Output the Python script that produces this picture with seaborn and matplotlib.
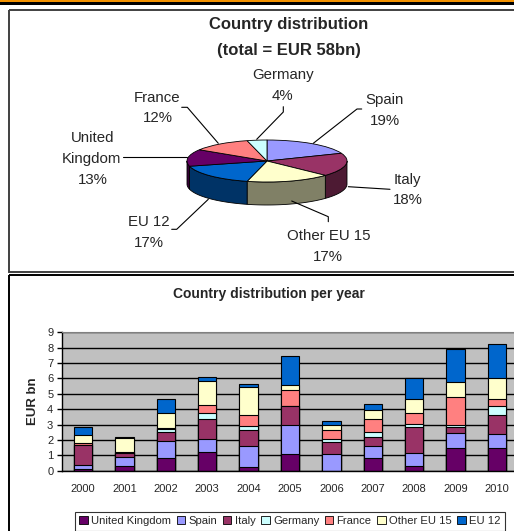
import numpy as np
import pandas as pd
import matplotlib
matplotlib.use("Agg")
import matplotlib.pyplot as plt
from matplotlib.patches import Rectangle, Patch
import seaborn as sns

# ---------------- data ----------------
pie_labels = ["Spain", "Italy", "Other EU 15", "EU 12", "United Kingdom", "France", "Germany"]
pie_shares = [19, 18, 17, 17, 13, 12, 4]

years = ["2000", "2001", "2002", "2003", "2004", "2005", "2006", "2007", "2008", "2009", "2010"]
series_names = ["United Kingdom", "Spain", "Italy", "Germany", "France", "Other EU 15", "EU 12"]
uk      = [0.10, 0.28, 0.82, 1.24, 0.26, 1.10, 0.00, 0.80, 0.28, 1.45, 1.45]
spain   = [0.25, 0.62, 1.13, 0.84, 1.32, 1.90, 1.08, 0.78, 0.89, 0.98, 0.91]
italy   = [1.30, 0.27, 0.55, 1.30, 1.04, 1.20, 0.79, 0.63, 1.67, 0.39, 1.26]
germany = [0.05, 0.00, 0.24, 0.37, 0.31, 0.03, 0.21, 0.33, 0.18, 0.18, 0.57]
france  = [0.10, 0.07, 0.06, 0.50, 0.69, 1.00, 0.57, 0.84, 0.71, 1.79, 0.50]
other15 = [0.50, 0.86, 0.95, 1.59, 1.80, 0.32, 0.35, 0.57, 0.93, 0.98, 1.36]
eu12    = [0.55, 0.07, 0.91, 0.23, 0.22, 1.91, 0.21, 0.37, 1.39, 2.13, 2.17]
series_values = [uk, spain, italy, germany, france, other15, eu12]
y_ticks = [0, 1, 2, 3, 4, 5, 6, 7, 8, 9]

colors = {
    "United Kingdom": "#660066",
    "Spain": "#9999FF",
    "Italy": "#993366",
    "Germany": "#CCFFFF",
    "France": "#FF8080",
    "Other EU 15": "#FFFFCC",
    "EU 12": "#0066CC",
}

sns.set_style("white")
plt.rcParams["font.family"] = ["Liberation Sans", "DejaVu Sans"]

W, H = 514, 531
fig = plt.figure(figsize=(W / 100, H / 100), dpi=100)

# ---------------- 3D pie ----------------
cx, cy, rx, ry, depth_px = 267, 161, 80, 21, 23
pa = fig.add_axes([0, 0, 1, 1])
pa.set_facecolor("none")
depth = depth_px / ry

def darker(c):
    r, g, b = matplotlib.colors.to_rgb(c)
    return (r * 0.5, g * 0.5, b * 0.5)

shares = np.array(pie_shares, dtype=float)
ends = 90 - 360 * np.cumsum(shares) / shares.sum()
starts = np.concatenate([[90], ends[:-1]])
for lab, a1, a2 in zip(pie_labels, starts, ends):
    lo, hi = max(a2, -180), min(a1, 0)
    if lo < hi:
        t = np.radians(np.linspace(lo, hi, 60))
        xs = np.concatenate([np.cos(t), np.cos(t[::-1])])
        ys = np.concatenate([np.sin(t), np.sin(t[::-1]) - depth])
        pa.fill(xs, ys, facecolor=darker(colors[lab]), edgecolor="black", linewidth=0.6)

pa.pie(pie_shares, colors=[colors[l] for l in pie_labels], startangle=90,
       counterclock=False, radius=1,
       wedgeprops=dict(edgecolor="black", linewidth=0.6))
pa.set_aspect("auto")
pa.set_xlim(-cx / rx, (W - cx) / rx)
pa.set_ylim(-(H - cy) / ry, cy / ry)
pa.axis("off")

# ---------------- stacked bars ----------------
ax = fig.add_axes([62.3 / W, 1 - 470.7 / H, 455.4 / W, 138.4 / H])
ax.set_facecolor("#C0C0C0")
cum = np.cumsum(np.array(series_values), axis=0)
for i in range(len(series_names) - 1, -1, -1):
    df = pd.DataFrame({"year": years, "value": cum[i]})
    sns.barplot(data=df, x="year", y="value", color=colors[series_names[i]],
                saturation=1, width=0.44, edgecolor="black", linewidth=0.8, ax=ax)
ax.set_xlim(-0.5, len(years) - 0.5)
ax.set_ylim(0, 9)
ax.set_yticks(y_ticks)
ax.set_axisbelow(True)
ax.yaxis.grid(True, color="black", linewidth=1)
ax.xaxis.grid(False)
ax.set_xlabel("")
ax.set_ylabel("")
ax.set_xticks(range(len(years)))
ax.set_xticklabels(years)
ax.set_xticks(np.arange(-0.5, len(years), 1), minor=True)
ax.tick_params(axis="x", which="major", length=0, pad=9.5, labelsize=8)
ax.tick_params(axis="x", which="minor", length=3.5, width=1, direction="out", color="black")
ax.tick_params(axis="y", which="major", length=3.5, width=1, direction="out", pad=3, labelsize=8, color="black", left=True)
for s in ["left", "bottom"]:
    ax.spines[s].set_color("black")
    ax.spines[s].set_linewidth(1)
ax.spines["top"].set_color("#808080")
ax.spines["top"].set_visible(True)
ax.spines["right"].set_visible(False)

handles = [Patch(facecolor=colors[n], edgecolor="black", linewidth=0.6, label=n) for n in series_names]
leg = fig.legend(handles=handles, loc="upper center", bbox_to_anchor=(290 / W, 1 - 511.5 / H),
                 ncol=7, fontsize=8.1, frameon=True, fancybox=False, edgecolor="black",
                 handlelength=0.75, handleheight=0.75, handletextpad=0.3, columnspacing=0.5,
                 borderpad=0.4, borderaxespad=0)
leg.get_frame().set_linewidth(0.8)

# ---------------- overlay (texts, borders, leaders) ----------------
ov = fig.add_axes([0, 0, 1, 1], zorder=5)
ov.set_xlim(0, W)
ov.set_ylim(H, 0)
ov.axis("off")

ov.add_patch(Rectangle((0, 0), W, 2.2, facecolor="#F39200", edgecolor="none"))
ov.add_patch(Rectangle((0, 2.2), W, 2.6, facecolor="black", edgecolor="none"))
ov.add_patch(Rectangle((8.5, 9.8), 520, 262.3, fill=False, edgecolor="#404040", linewidth=1.4))
ov.add_patch(Rectangle((8.5, 275), 520, 270, fill=False, edgecolor="black", linewidth=1.4))

ov.text(289, 25, "Country distribution", ha="center", va="center", fontsize=12, fontweight="bold")
ov.text(289, 50, "(total = EUR 58bn)", ha="center", va="center", fontsize=12, fontweight="bold")

lbl = dict(ha="center", va="center", fontsize=10.8)
ov.text(282.7, 75, "Germany", **lbl); ov.text(282.7, 95.7, "4%", **lbl)
ov.text(157, 97.7, "France", **lbl); ov.text(157.5, 118.3, "12%", **lbl)
ov.text(385, 100, "Spain", **lbl); ov.text(385, 120.7, "19%", **lbl)
ov.text(92.5, 138.3, "United", **lbl); ov.text(91.3, 159, "Kingdom", **lbl); ov.text(93.3, 180, "13%", **lbl)
ov.text(407.5, 180, "Italy", **lbl); ov.text(408, 200, "18%", **lbl)
ov.text(148.5, 221.7, "EU 12", **lbl); ov.text(149, 243.3, "17%", **lbl)
ov.text(328.3, 236, "Other EU 15", **lbl); ov.text(328.3, 256.7, "17%", **lbl)

leaders = [
    [(283.3, 106.7), (283.3, 112), (256.7, 139.3)],
    [(181.7, 107.3), (187.3, 107.3), (218.3, 143.3)],
    [(361.7, 109), (357, 109), (313.3, 143.3)],
    [(123, 157.3), (187.3, 157.3)],
    [(348.3, 186.7), (390, 189.3)],
    [(171.7, 229.3), (176.7, 229.3), (208.3, 199.3)],
    [(291.7, 201), (328.3, 216.7), (328.3, 221.7)],
]
for pts in leaders:
    xs, ys = zip(*pts)
    ov.plot(xs, ys, color="black", linewidth=0.8)

ov.text(268.8, 294, "Country distribution per year", ha="center", va="center", fontsize=10, fontweight="bold")
ov.text(33.3, 401, "EUR bn", ha="center", va="center", rotation=90, fontsize=9.5, fontweight="bold")

fig.savefig("out.png", dpi=100)
